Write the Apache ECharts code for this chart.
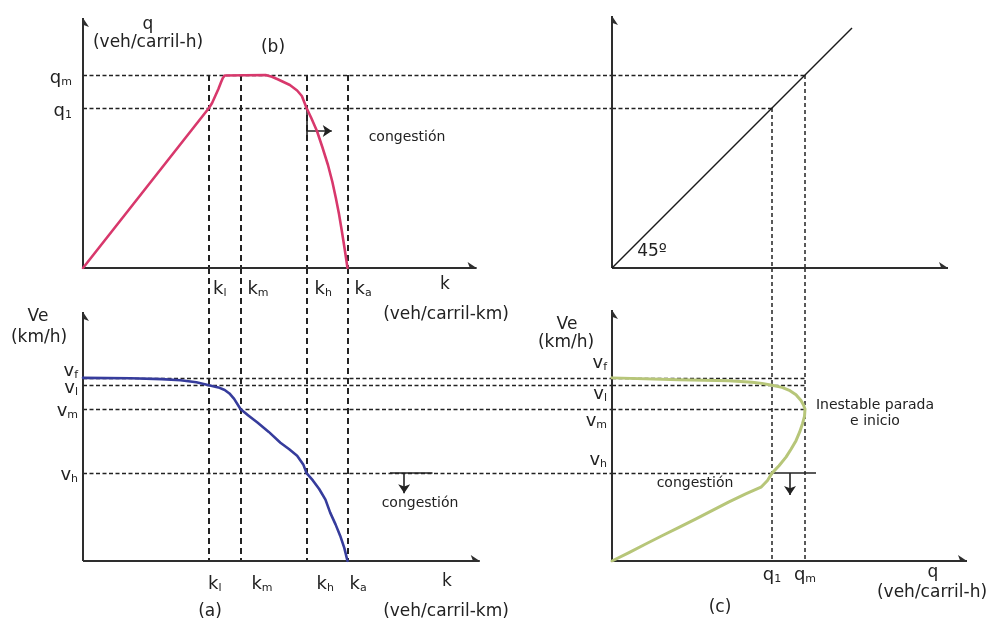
<!DOCTYPE html>
<html>
<head>
<meta charset="utf-8">
<script src="https://cdn.jsdelivr.net/npm/echarts@6/dist/echarts.min.js"></script>
<style>
  html, body { margin: 0; padding: 0; background: #ffffff; }
  #chart { width: 991px; height: 623px; }
</style>
</head>
<body>
<div id="chart"></div>
<script>
// ---- Characteristic values --------------------------------------------
// densities k (veh/carril-km): k_l, k_m, k_h, k_a
const densityNames = ['l', 'm', 'h', 'a'];
const densityValues = [40, 50, 71, 84];
// flows q (veh/carril-h): q_1, q_m
const flowNames = ['1', 'm'];
const flowValues = [1600, 1930];
// speeds Ve (km/h): v_f, v_l, v_m, v_h
const speedNames = ['f', 'l', 'm', 'h'];
const speedValues = [100, 96, 83, 48];

// ---- Curves ------------------------------------------------------------
// (b) flow vs density  [k, q]
const flowDensity = [
  [0, 0], [40, 1600], [41, 1650], [42, 1720], [43, 1790], [43.8, 1855],
  [44.4, 1900], [45, 1925], [45.6, 1930], [58, 1930], [60, 1912], [62, 1885],
  [65.7, 1830], [68, 1775], [69.5, 1720], [71, 1600], [72.5, 1500],
  [74.3, 1370], [76, 1210], [77.8, 1030], [79.2, 860], [80.3, 700],
  [81.3, 540], [82.2, 370], [83.1, 190], [84, 0]
];
// (a) speed vs density  [k, Ve]
const speedDensity = [
  [0, 100], [15, 99.8], [25, 99.3], [31, 98.7], [36, 97.6], [40, 96],
  [43, 94.8], [45, 93.4], [46.5, 91.5], [48, 88.5], [50, 83], [52.5, 79.5],
  [55.4, 75.6], [59, 70.5], [62.7, 64.6], [65.5, 61], [68, 57.5], [70, 52.5],
  [71, 48], [73, 44], [75, 39.3], [77, 33.5], [78.5, 26.4], [80.2, 20],
  [81.7, 13.7], [83, 7], [84, 0]
];
// (c) speed vs flow  [q, Ve]
const speedFlow = [
  [0, 100], [670, 99], [1170, 98.4], [1400, 97.6], [1500, 97], [1600, 96],
  [1700, 94.8], [1780, 93], [1840, 90.8], [1890, 87.6], [1915, 85.2],
  [1930, 83], [1925, 79], [1905, 75], [1875, 70.2], [1840, 65.7],
  [1790, 61], [1740, 56.7], [1670, 52], [1600, 48], [1555, 44], [1490, 40.3],
  [1337, 36.6], [1170, 32.3], [1000, 27.5], [840, 23], [670, 18.4],
  [500, 13.8], [337, 9.3], [170, 4.6], [0, 0]
];
// 45º reference line  [q, q]
const diagonal = [[0, 0], [2400, 2400]];

// ---- Congestion markers ------------------------------------------------
const congestionBarB = [[71, 1600], [71, 1270]];
const congestionArrowB = [[71, 1370], [79, 1370]];
const congestionBarA = [[97.5, 48], [111, 48]];
const congestionArrowA = [[102, 48], [102, 37]];
const congestionBarC = [[1600, 48], [2040, 48]];
const congestionArrowC = [[1780, 48], [1780, 36]];

// ---- Layout --------------------------------------------------------------
const FONT = 'DejaVu Sans';
const INK = '#222222';
const TOP = 8, MID = 268, BOT = 561, LEFT = 83, SPLIT = 612, RIGHT = 980;
const K_MAX = 168, Q_TOP = 2600, Q_RIGHT = 3680, V_TOP = 160;
// where each drawn axis arrow ends (in the panel's own units)
const AXIS_END = {
  b: [125, 2500], a: [126, 136], d: [3360, 2520], c: [3550, 137]
};

const G_B = 0, G_A = 1, G_D = 2, G_C = 3;

const DASH_H = { color: INK, width: 1.3, type: [4, 2.5] };
const DASH_K = { color: INK, width: 2, type: [6, 4] };
const DASH_Q = { color: INK, width: 1.5, type: [4, 3] };
const AXIS = { color: '#2e2e2e', width: 2 };
const SOLID = { color: INK, width: 1.6 };

function segs(grid, list, style, extra) {
  return Object.assign({
    type: 'lines', coordinateSystem: 'cartesian2d',
    xAxisIndex: grid, yAxisIndex: grid,
    polyline: false, silent: true, z: 2,
    symbol: 'none',
    lineStyle: Object.assign({ opacity: 1, curveness: 0 }, style),
    data: list.map(c => ({ coords: c }))
  }, extra || {});
}

function axesFor(grid, end) {
  return segs(grid, [[[0, 0], [end[0], 0]], [[0, 0], [0, end[1]]]], AXIS,
    { symbol: ['none', 'arrow'], symbolSize: 9, z: 4 });
}

function arrow(grid, seg) {
  return segs(grid, [seg], SOLID, { symbol: ['none', 'arrow'], symbolSize: 9, z: 4 });
}

function curve(grid, data, color, width) {
  return {
    type: 'line', xAxisIndex: grid, yAxisIndex: grid, data: data,
    showSymbol: false, silent: true, z: 5, smooth: false,
    lineStyle: { color: color, width: width, cap: 'round', join: 'round' }
  };
}

// tick names with subscripts, e.g. k_l, v_f, q_m
const sub = (m, s) => `{m|${m}}{s|${s}}`;
const RICH = {
  m: { fontFamily: FONT, fontSize: 18, fill: INK, verticalAlign: 'bottom', lineHeight: 21 },
  s: { fontFamily: FONT, fontSize: 11, fill: INK, verticalAlign: 'bottom', lineHeight: 10 }
};

function labels(grid, items, align) {
  return {
    type: 'custom', coordinateSystem: 'cartesian2d',
    xAxisIndex: grid, yAxisIndex: grid, silent: true, z: 6, clip: false,
    data: items.map(it => it.value),
    renderItem: (params, api) => {
      const it = items[params.dataIndex];
      const p = api.coord(it.value);
      return {
        type: 'text', x: p[0] + it.dx, y: p[1] + it.dy,
        style: { text: it.text, rich: RICH, fill: INK, align: align, verticalAlign: 'middle',
                 fontFamily: FONT, fontSize: 18 }
      };
    }
  };
}

// label offsets (pixels) for the tick names
const bKDx = [4, 7, 8, 7];
const aKDx = [-1, 11, 10, 2];
const aVDy = [-8, 2, 1, 1];
const cVDy = [-16, 8, 11, -14];

const qM = flowValues[1], q1 = flowValues[0];
const vH = speedValues[3];

const series = [
  // (b) guides
  segs(G_B, flowValues.map(q => [[0, q], [K_MAX, q]]), DASH_H),
  segs(G_B, densityValues.map(k => [[k, qM], [k, 0]]), DASH_K),
  axesFor(G_B, AXIS_END.b),
  segs(G_B, [congestionBarB], SOLID, { z: 4 }),
  arrow(G_B, congestionArrowB),
  curve(G_B, flowDensity, '#d8386c', 2.6),
  labels(G_B, densityValues.map((k, i) => ({ value: [k, 0], text: sub('k', densityNames[i]), dx: bKDx[i], dy: 20 })), 'left'),
  labels(G_B, flowValues.map((q, i) => ({ value: [0, q], text: sub('q', flowNames[i]), dx: -11, dy: 2 })), 'right'),

  // (a) guides
  segs(G_A, speedValues.map(v => [[0, v], [K_MAX, v]]), DASH_H),
  segs(G_A, densityValues.map(k => [[k, V_TOP], [k, 0]]), DASH_K),
  axesFor(G_A, AXIS_END.a),
  segs(G_A, [congestionBarA], SOLID, { z: 4 }),
  arrow(G_A, congestionArrowA),
  curve(G_A, speedDensity, '#363c9c', 2.6),
  labels(G_A, densityValues.map((k, i) => ({ value: [k, 0], text: sub('k', densityNames[i]), dx: aKDx[i], dy: 22 })), 'left'),
  labels(G_A, speedValues.map((v, i) => ({ value: [0, v], text: sub('v', speedNames[i]), dx: -5, dy: aVDy[i] })), 'right'),

  // 45º panel
  segs(G_D, flowValues.map(q => [[0, q], [q, q]]), DASH_H),
  segs(G_D, flowValues.map(q => [[q, q], [q, 0]]), DASH_Q),
  axesFor(G_D, AXIS_END.d),
  segs(G_D, [diagonal], { color: '#1a1a1a', width: 1.5 }, { z: 5 }),

  // (c) guides
  segs(G_C, flowValues.map(q => [[q, V_TOP], [q, 0]]), DASH_Q),
  segs(G_C, speedValues.map(v => [[0, v], [v === vH ? q1 : qM, v]]), DASH_H),
  axesFor(G_C, AXIS_END.c),
  segs(G_C, [congestionBarC], SOLID, { z: 4 }),
  arrow(G_C, congestionArrowC),
  curve(G_C, speedFlow, '#b7c679', 3),
  labels(G_C, flowValues.map((q, i) => ({ value: [q, 0], text: sub('q', flowNames[i]), dx: 0, dy: 13 })), 'center'),
  labels(G_C, speedValues.map((v, i) => ({ value: [0, v], text: sub('v', speedNames[i]), dx: -5, dy: cVDy[i] })), 'right')
];

function txt(text, x, y, size, align) {
  return {
    type: 'text', x: x, y: y, silent: true, z: 10,
    style: { text: text, font: `${size || 17}px "${FONT}"`, fill: INK, align: align || 'center', verticalAlign: 'middle' }
  };
}

const graphics = [
  // (b)
  txt('q', 148, 25), txt('(veh/carril-h)', 148, 43), txt('(b)', 273, 48),
  txt('k', 445, 285), txt('(veh/carril-km)', 446, 315),
  txt('congestión', 407, 137, 14),
  // (a)
  txt('Ve', 38, 317), txt('(km/h)', 39, 338),
  txt('k', 447, 582), txt('(a)', 210, 612), txt('(veh/carril-km)', 446, 612),
  txt('congestión', 420, 503, 14),
  // 45º
  txt('45º', 652, 252),
  // (c)
  txt('Ve', 567, 325), txt('(km/h)', 566, 343),
  txt('Inestable parada', 875, 405, 14), txt('e inicio', 875, 421, 14),
  txt('congestión', 695, 483, 14),
  txt('q', 933, 573), txt('(veh/carril-h)', 932, 593), txt('(c)', 720, 608)
];

const hidden = { show: false };
const chart = echarts.init(document.getElementById('chart'), null, { renderer: 'canvas' });
chart.setOption({
  animation: false,
  backgroundColor: '#ffffff',
  grid: [
    { left: LEFT, top: TOP, width: SPLIT - LEFT, height: MID - TOP },
    { left: LEFT, top: MID, width: SPLIT - LEFT, height: BOT - MID },
    { left: SPLIT, top: TOP, width: RIGHT - SPLIT, height: MID - TOP },
    { left: SPLIT, top: MID, width: RIGHT - SPLIT, height: BOT - MID }
  ],
  xAxis: [
    Object.assign({ gridIndex: 0, type: 'value', min: 0, max: K_MAX }, hidden),
    Object.assign({ gridIndex: 1, type: 'value', min: 0, max: K_MAX }, hidden),
    Object.assign({ gridIndex: 2, type: 'value', min: 0, max: Q_RIGHT }, hidden),
    Object.assign({ gridIndex: 3, type: 'value', min: 0, max: Q_RIGHT }, hidden)
  ],
  yAxis: [
    Object.assign({ gridIndex: 0, type: 'value', min: 0, max: Q_TOP }, hidden),
    Object.assign({ gridIndex: 1, type: 'value', min: 0, max: V_TOP }, hidden),
    Object.assign({ gridIndex: 2, type: 'value', min: 0, max: Q_TOP }, hidden),
    Object.assign({ gridIndex: 3, type: 'value', min: 0, max: V_TOP }, hidden)
  ],
  graphic: graphics,
  series: series
});
</script>
</body>
</html>
